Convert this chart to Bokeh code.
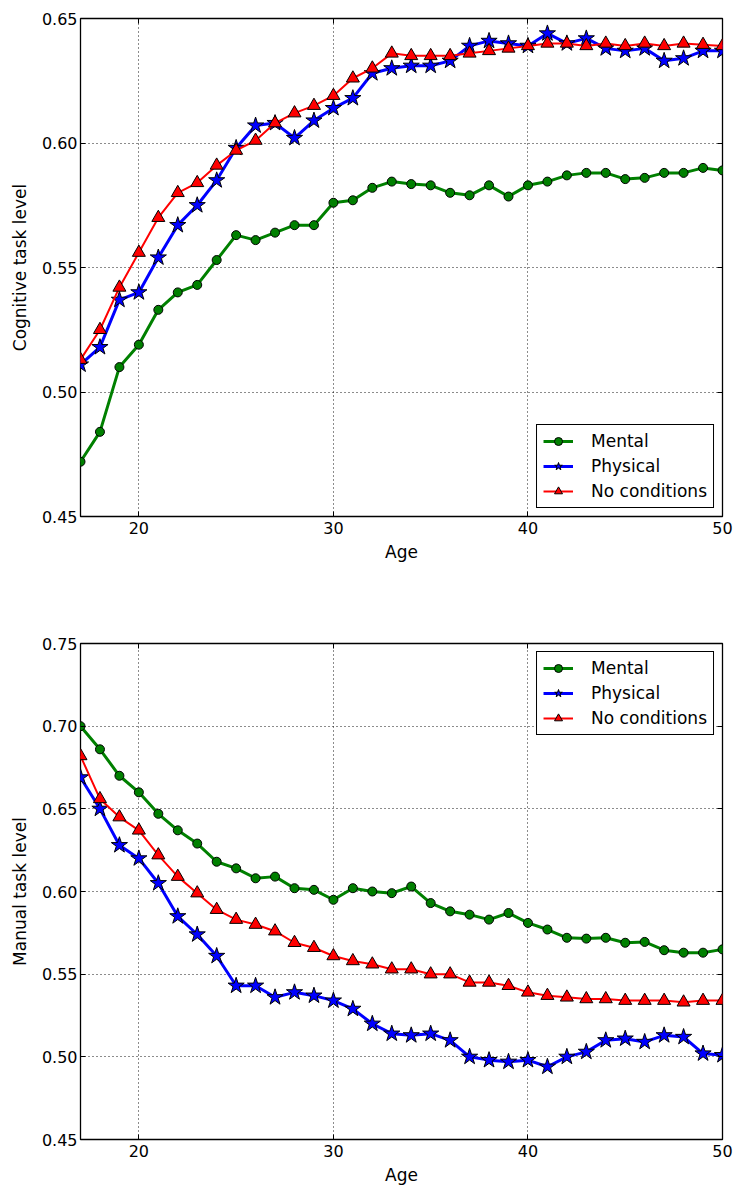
from bokeh.plotting import figure
from bokeh.layouts import column
from bokeh.models import (Range1d, FixedTicker, NumeralTickFormatter, LinearAxis,
                          CustomJSTickFormatter, Legend, LegendItem)
from bokeh.embed import file_html
from bokeh.resources import INLINE

ages = list(range(17, 51))

cog_mental = [0.472, 0.484, 0.510, 0.519, 0.533, 0.540, 0.543, 0.553, 0.563, 0.561,
              0.564, 0.567, 0.567, 0.576, 0.577, 0.582, 0.5845, 0.5835, 0.583, 0.580,
              0.579, 0.583, 0.5785, 0.583, 0.5845, 0.587, 0.588, 0.588, 0.5855, 0.586,
              0.588, 0.588, 0.590, 0.589]
cog_physical = [0.511, 0.518, 0.537, 0.540, 0.554, 0.567, 0.575, 0.585, 0.598, 0.607,
                0.608, 0.602, 0.609, 0.614, 0.618, 0.628, 0.630, 0.631, 0.631, 0.633,
                0.639, 0.641, 0.640, 0.639, 0.644, 0.640, 0.642, 0.638, 0.637, 0.638,
                0.633, 0.634, 0.637, 0.637]
cog_none = [0.513, 0.525, 0.542, 0.556, 0.570, 0.580, 0.584, 0.591, 0.597, 0.601,
            0.608, 0.612, 0.615, 0.619, 0.626, 0.630, 0.636, 0.635, 0.635, 0.635,
            0.636, 0.637, 0.638, 0.639, 0.640, 0.640, 0.639, 0.640, 0.639, 0.640,
            0.639, 0.640, 0.6395, 0.639]

man_mental = [0.700, 0.686, 0.670, 0.660, 0.647, 0.637, 0.629, 0.618, 0.614, 0.608,
              0.609, 0.602, 0.601, 0.595, 0.602, 0.600, 0.599, 0.603, 0.593, 0.588,
              0.586, 0.583, 0.587, 0.581, 0.577, 0.572, 0.5715, 0.572, 0.569, 0.5695,
              0.5645, 0.563, 0.563, 0.565]
man_physical = [0.669, 0.650, 0.628, 0.620, 0.605, 0.585, 0.574, 0.561, 0.543, 0.543,
                0.536, 0.539, 0.537, 0.534, 0.529, 0.520, 0.514, 0.513, 0.514, 0.510,
                0.500, 0.498, 0.497, 0.498, 0.494, 0.500, 0.503, 0.510, 0.511, 0.509,
                0.513, 0.512, 0.502, 0.501]
man_none = [0.682, 0.656, 0.645, 0.637, 0.622, 0.609, 0.599, 0.589, 0.583, 0.580,
            0.576, 0.569, 0.566, 0.561, 0.558, 0.556, 0.553, 0.553, 0.550, 0.550,
            0.545, 0.545, 0.543, 0.539, 0.537, 0.536, 0.535, 0.535, 0.534, 0.534,
            0.534, 0.533, 0.534, 0.534]

series_names = ["Mental", "Physical", "No conditions"]
x_ticks = [20, 30, 40, 50]
cog_yticks = [0.45, 0.50, 0.55, 0.60, 0.65]
man_yticks = [0.45, 0.50, 0.55, 0.60, 0.65, 0.70, 0.75]

FONT = "DejaVu Sans"
FS = "16px"


def style_axis(ax, ticker, label=True):
    ax.ticker = FixedTicker(ticks=ticker)
    ax.major_tick_in = 5
    ax.major_tick_out = 0
    ax.minor_tick_line_color = None
    ax.major_tick_line_color = "black"
    ax.axis_line_color = None
    ax.major_label_text_font = FONT
    ax.major_label_text_font_size = FS
    ax.major_label_text_color = "black"
    ax.axis_label_text_font = FONT
    ax.axis_label_text_font_size = "17px"
    ax.axis_label_text_font_style = "normal"
    ax.axis_label_text_color = "black"
    if not label:
        ax.formatter = CustomJSTickFormatter(code="return ''")
        ax.major_label_text_font_size = "0px"
        ax.major_label_standoff = 0


def make_fig(ylabel, y0, y1, yticks, height, top_border, bottom_border, data, legend_loc):
    p = figure(width=738, height=height, x_range=Range1d(17, 50), y_range=Range1d(y0, y1),
               output_backend="svg", toolbar_location=None,
               min_border_left=80, min_border_right=16, min_border_top=top_border,
               min_border_bottom=bottom_border, background_fill_color="white",
               border_fill_color="white")
    p.outline_line_color = "black"
    p.outline_line_width = 1.3
    p.outline_line_alpha = 1

    style_axis(p.xaxis[0], x_ticks)
    p.xaxis[0].axis_label = "Age"
    p.xaxis[0].major_label_standoff = 5
    p.xaxis[0].axis_label_standoff = 5
    style_axis(p.yaxis[0], yticks)
    p.yaxis[0].axis_label = ylabel
    p.yaxis[0].formatter = NumeralTickFormatter(format="0.00")
    p.yaxis[0].major_label_standoff = 3
    p.yaxis[0].axis_label_standoff = 9

    top = LinearAxis()
    style_axis(top, x_ticks, label=False)
    p.add_layout(top, "above")
    right = LinearAxis()
    style_axis(right, yticks, label=False)
    p.add_layout(right, "right")

    for g in (p.xgrid[0], p.ygrid[0]):
        g.grid_line_color = "black"
        g.grid_line_dash = "1 3"
        g.grid_line_width = 1
        g.grid_line_alpha = 0.9
    p.xgrid[0].ticker = FixedTicker(ticks=x_ticks)
    p.ygrid[0].ticker = FixedTicker(ticks=yticks)

    m, ph, nc = data
    l1 = p.line(ages, m, line_color="#008000", line_width=3)
    s1 = p.scatter(ages, m, marker="circle", size=9, fill_color="#008000",
                   line_color="black", line_width=1)
    l2 = p.line(ages, ph, line_color="#0000ff", line_width=3)
    s2 = p.scatter(ages, ph, marker="star", size=17, fill_color="#0000ff",
                   line_color="black", line_width=1)
    l3 = p.line(ages, nc, line_color="#ff0000", line_width=2)
    s3 = p.scatter(ages, nc, marker="triangle", size=13, fill_color="#ff0000",
                   line_color="black", line_width=1)
    items = [LegendItem(label=series_names[0], renderers=[l1, s1]),
             LegendItem(label=series_names[1], renderers=[l2, s2]),
             LegendItem(label=series_names[2], renderers=[l3, s3])]
    leg = Legend(items=items, location=legend_loc)
    leg.border_line_color = "black"
    leg.border_line_width = 1.2
    leg.border_line_alpha = 1
    leg.background_fill_color = "white"
    leg.background_fill_alpha = 1
    leg.label_text_font = FONT
    leg.label_text_font_size = "17px"
    leg.label_text_color = "black"
    leg.glyph_width = 30
    leg.glyph_height = 20
    leg.label_height = 20
    leg.spacing = 5
    leg.padding = 6
    leg.margin = 8
    leg.label_standoff = 18
    p.add_layout(leg)
    return p


p1 = make_fig("Cognitive task level", 0.45, 0.65, cog_yticks, 566, 18, 50,
              (cog_mental, cog_physical, cog_none), "bottom_right")
p2 = make_fig("Manual task level", 0.45, 0.75, man_yticks, 625, 77, 52,
              (man_mental, man_physical, man_none), "top_right")

layout = column(p1, p2, spacing=0)
open("out.html", "w").write(file_html(layout, INLINE))
